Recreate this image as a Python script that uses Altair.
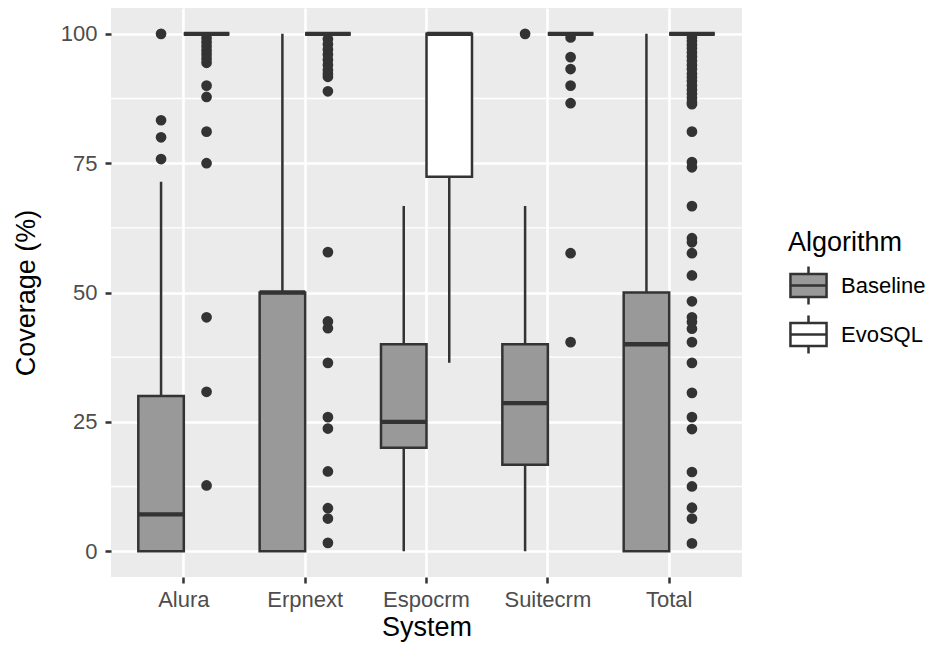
import altair as alt
import pandas as pd

systems = ["Alura", "Erpnext", "Espocrm", "Suitecrm", "Total"]
algorithms = ["Baseline", "EvoSQL"]

# Box statistics (Baseline)
base_lower = [0, 0, 0, 0, 0]
base_q1 = [0, 0, 20, 16.7, 0]
base_median = [7.1, 50, 25, 28.6, 40]
base_q3 = [30, 50, 40, 40, 50]
base_upper = [71.4, 100, 66.7, 66.7, 100]

# Box statistics (EvoSQL)
evo_lower = [100, 100, 36.4, 100, 100]
evo_q1 = [100, 100, 72.4, 100, 100]
evo_median = [100, 100, 100, 100, 100]
evo_q3 = [100, 100, 100, 100, 100]
evo_upper = [100, 100, 100, 100, 100]

# Outliers
out_base_alura = [100, 83.3, 80, 75.8]
out_base_suitecrm = [100]
out_evo_alura = [99.2, 98.4, 97.6, 96.8, 96, 95.2, 94.4, 90, 87.8, 81.1, 75, 45.2, 30.8, 12.7]
out_evo_erpnext = [99, 98, 97, 96, 95, 94, 93, 92.3, 91.7, 88.9, 57.8, 44.4, 43.1, 36.4,
                   25.9, 23.7, 15.4, 8.3, 6.3, 1.6]
out_evo_suitecrm = [99.3, 95.5, 93.2, 90, 86.6, 57.6, 40.4]
out_evo_total = [99.3, 98.6, 97.9, 97.2, 96.4, 95.6, 94.8, 94, 93.2, 92.3, 91.6, 90.9, 90,
                 89.2, 88.4, 87.6, 86.8, 86.4, 81.1, 75.2, 74.2, 66.7, 60.5, 59.7, 57.6,
                 53.3, 48.3, 45.2, 44.3, 43.0, 40.4, 36.4, 30.6, 25.9, 23.6, 15.3, 12.5,
                 8.4, 6.3, 1.5]

minor_breaks = [12.5, 37.5, 62.5, 87.5]
major_breaks = [0, 25, 50, 75, 100]

rows = []
for i, s in enumerate(systems):
    rows.append(dict(System=s, Algorithm="Baseline", lower=base_lower[i], q1=base_q1[i],
                     median=base_median[i], q3=base_q3[i], upper=base_upper[i]))
    rows.append(dict(System=s, Algorithm="EvoSQL", lower=evo_lower[i], q1=evo_q1[i],
                     median=evo_median[i], q3=evo_q3[i], upper=evo_upper[i]))
stats = pd.DataFrame(rows)

out_rows = []
for s, a, vals in [("Alura", "Baseline", out_base_alura),
                   ("Suitecrm", "Baseline", out_base_suitecrm),
                   ("Alura", "EvoSQL", out_evo_alura),
                   ("Erpnext", "EvoSQL", out_evo_erpnext),
                   ("Suitecrm", "EvoSQL", out_evo_suitecrm),
                   ("Total", "EvoSQL", out_evo_total)]:
    for v in vals:
        out_rows.append(dict(System=s, Algorithm=a, value=v))
outliers = pd.DataFrame(out_rows)
minor_df = pd.DataFrame({"v": minor_breaks})

FONT = "Liberation Sans"
DARK = "#333333"

x_enc = alt.X("System:N",
              scale=alt.Scale(domain=systems, paddingInner=0.25, paddingOuter=0.225),
              axis=alt.Axis(title="System", bandPosition=0.5, grid=True, gridColor="white",
                            gridWidth=2.6, domain=False, tickColor=DARK, tickSize=6,
                            tickWidth=2.5, labelPadding=6, labelFontSize=22,
                            labelColor="#4D4D4D", labelAngle=0, titleFontSize=27,
                            titleFontWeight="normal", titleColor="black",
                            titleBaseline="alphabetic", titleY=58))
xoff = alt.XOffset("Algorithm:N", scale=alt.Scale(domain=algorithms, paddingInner=0, paddingOuter=0))
yscale = alt.Scale(domain=[-5, 105], nice=False, zero=False)
y_axis = alt.Axis(values=major_breaks, title="Coverage (%)", grid=True, gridColor="white",
                  gridWidth=2.6, domain=False, tickColor=DARK, tickSize=6, tickWidth=2.5,
                  labelPadding=8, labelFontSize=22, labelColor="#4D4D4D", titleFontSize=27,
                  titleFontWeight="normal", titleColor="black", titlePadding=20)

minor = alt.Chart(minor_df).mark_rule(color="white", strokeWidth=1.3).encode(
    y=alt.Y("v:Q", scale=yscale, axis=y_axis)
)

whisk = alt.Chart(stats).mark_rule(color=DARK, strokeWidth=2.5).encode(
    x=x_enc, xOffset=xoff,
    y=alt.Y("lower:Q", scale=yscale, axis=y_axis), y2="upper:Q"
)

legend_path = ("M-0.95,-0.6H0.95V0.6H-0.95Z M-0.95,0H0.95 M0,-0.6V-1 M0,0.6V1")

box = alt.Chart(stats).mark_bar(stroke=DARK, strokeWidth=2.5, opacity=1).encode(
    x=x_enc, xOffset=xoff,
    y=alt.Y("q1:Q", scale=yscale, axis=y_axis), y2="q3:Q",
    fill=alt.Fill("Algorithm:N",
                  scale=alt.Scale(domain=algorithms, range=["#999999", "#FFFFFF"]),
                  legend=alt.Legend(title="Algorithm", orient="none", legendX=677,
                                    legendY=222, symbolType=legend_path, symbolSize=1444,
                                    symbolStrokeColor=DARK, symbolStrokeWidth=2.5,
                                    symbolOpacity=1, titleFontSize=27, labelFontSize=22,
                                    titleFontWeight="normal", titleColor="black",
                                    labelColor="black", titlePadding=8, rowPadding=0,
                                    labelOffset=12))
)

med = alt.Chart(stats).mark_bar(fillOpacity=0, stroke=DARK, strokeWidth=4.3).encode(
    x=x_enc, xOffset=xoff,
    y=alt.Y("median:Q", scale=yscale, axis=y_axis), y2="median:Q"
)

pts = alt.Chart(outliers).mark_circle(color=DARK, size=115, opacity=1).encode(
    x=x_enc, xOffset=xoff,
    y=alt.Y("value:Q", scale=yscale, axis=y_axis)
)

chart = alt.layer(minor, whisk, box, med, pts).properties(
    width=631, height=569,
    autosize=alt.AutoSizeParams(type="none"),
    padding={"left": 103, "top": 0, "right": 183, "bottom": 65},
).configure(font=FONT, background="white").configure_view(
    fill="#EBEBEB", strokeWidth=0
)

chart.save("out.html", embed_options={"renderer": "svg", "actions": False})
